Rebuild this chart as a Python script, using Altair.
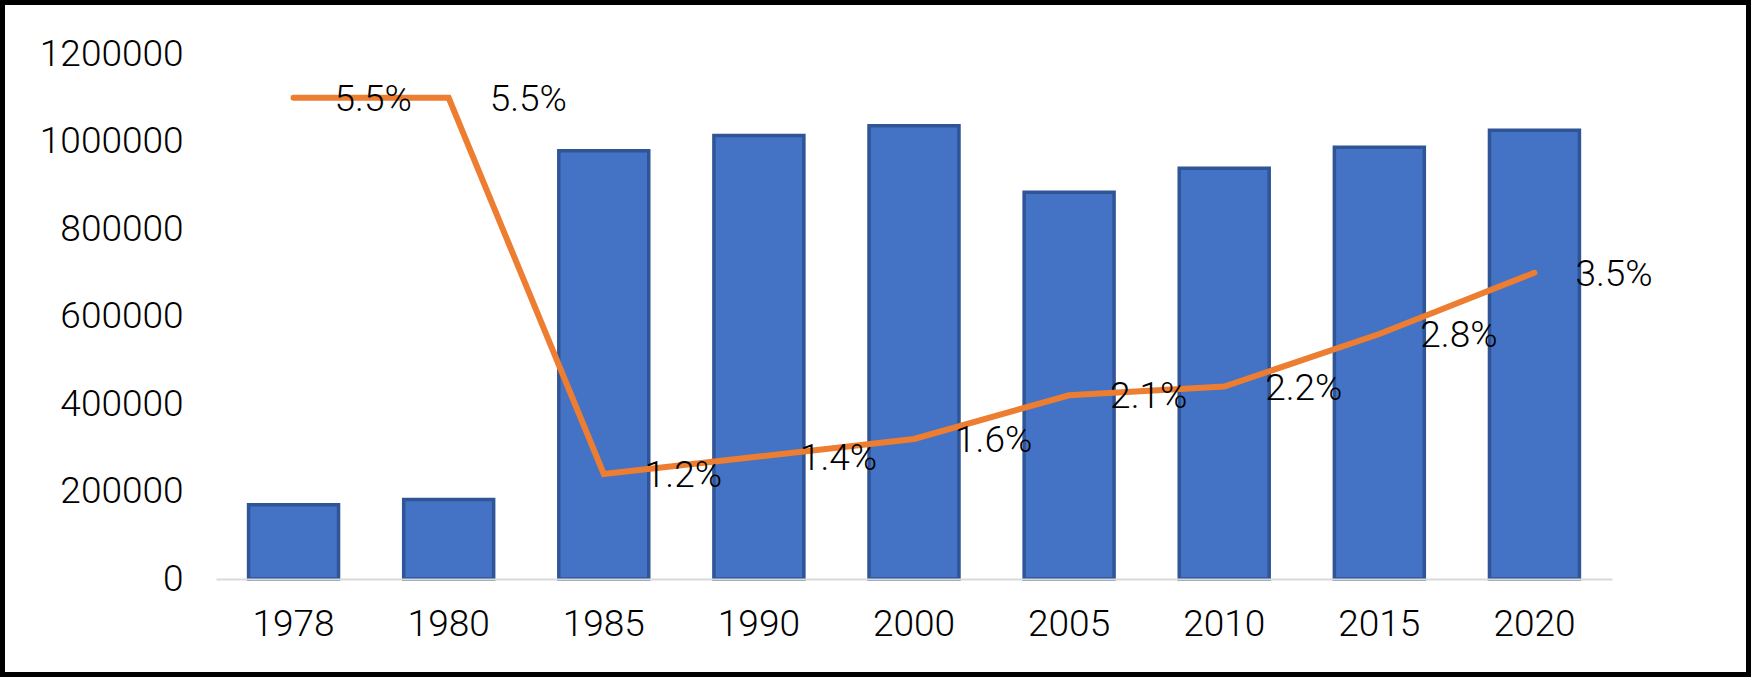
import altair as alt
import pandas as pd

# Categories and series
years = ["1978", "1980", "1985", "1990", "2000", "2005", "2010", "2015", "2020"]
amounts = [170000, 182000, 979000, 1014000, 1036000, 884000, 939000, 987000, 1026000]
rates = [5.5, 5.5, 1.2, 1.4, 1.6, 2.1, 2.2, 2.8, 3.5]

# Axis tick values
left_ticks = [0, 200000, 400000, 600000, 800000, 1000000, 1200000]
right_ticks = [0, 1, 2, 3, 4, 5, 6]

FONT = "Roboto"
FS = 37
WEIGHT = 300
PLOT_W, PLOT_H = 1396, 525
PAD = {"left": 216, "top": 54, "right": 139, "bottom": 98}

df = pd.DataFrame({"year": years, "amount": amounts, "rate": rates})

x_enc = alt.X(
    "year:N",
    sort=years,
    scale=alt.Scale(paddingInner=0.42, paddingOuter=0.21),
    axis=alt.Axis(
        title=None,
        labelAngle=0,
        labelFont=FONT,
        labelFontSize=FS,
        labelFontWeight=WEIGHT,
        labelColor="#000000",
        labelPadding=27,
        ticks=False,
        domain=True,
        domainColor="#D9D9D9",
        domainWidth=2,
        grid=False,
        zindex=1,
    ),
)

bars = alt.Chart(df).mark_bar(
    color="#4472C4", stroke="#2F5597", strokeWidth=3.5
).encode(
    x=x_enc,
    y=alt.Y(
        "amount:Q",
        scale=alt.Scale(domain=[0, 1200000], nice=False),
        axis=alt.Axis(
            title=None,
            values=left_ticks,
            format="d",
            labelFont=FONT,
            labelFontSize=FS,
            labelFontWeight=WEIGHT,
            labelColor="#000000",
            labelPadding=33,
            ticks=False,
            domain=False,
            grid=False,
        ),
    ),
)

rate_y = alt.Y(
    "rate:Q",
    scale=alt.Scale(domain=[0, 6], nice=False),
    axis=alt.Axis(
        title=None,
        orient="right",
        values=right_ticks,
        labelExpr="format(datum.value, '.1f') + '%'",
        labelFont=FONT,
        labelFontSize=FS,
        labelFontWeight=WEIGHT,
        labelColor="#000000",
        labelPadding=31,
        ticks=False,
        domain=False,
        grid=False,
    ),
)

line = alt.Chart(df).mark_line(
    color="#ED7D31", strokeWidth=6, strokeCap="round"
).encode(x=alt.X("year:N", sort=years), y=rate_y)

labels = alt.Chart(df).transform_calculate(
    label="format(datum.rate, '.1f') + '%'"
).mark_text(
    align="left", baseline="middle", dx=41, dy=2,
    font=FONT, fontSize=FS, fontWeight=WEIGHT, color="#000000"
).encode(
    x=alt.X("year:N", sort=years),
    y=alt.Y("rate:Q", scale=alt.Scale(domain=[0, 6], nice=False), axis=None),
    text="label:N",
)

# Outer black frame around the whole figure
frame = alt.Chart(pd.DataFrame({"k": [0]})).mark_rect(
    fill=None, stroke="#000000", strokeWidth=5
).encode(
    x=alt.value(-PAD["left"] + 2.5),
    x2=alt.value(PLOT_W + PAD["right"] - 2.5),
    y=alt.value(-PAD["top"] + 2.5),
    y2=alt.value(PLOT_H + PAD["bottom"] - 2.5),
)

rate_layer = alt.layer(line, labels)

chart = alt.layer(bars, rate_layer, frame).resolve_scale(
    y="independent"
).properties(
    width=PLOT_W,
    height=PLOT_H,
    padding=PAD,
    autosize=alt.AutoSizeParams(type="none"),
    background="white",
).configure_view(stroke=None)

chart.save("out.html", embed_options={"renderer": "svg", "actions": False})
